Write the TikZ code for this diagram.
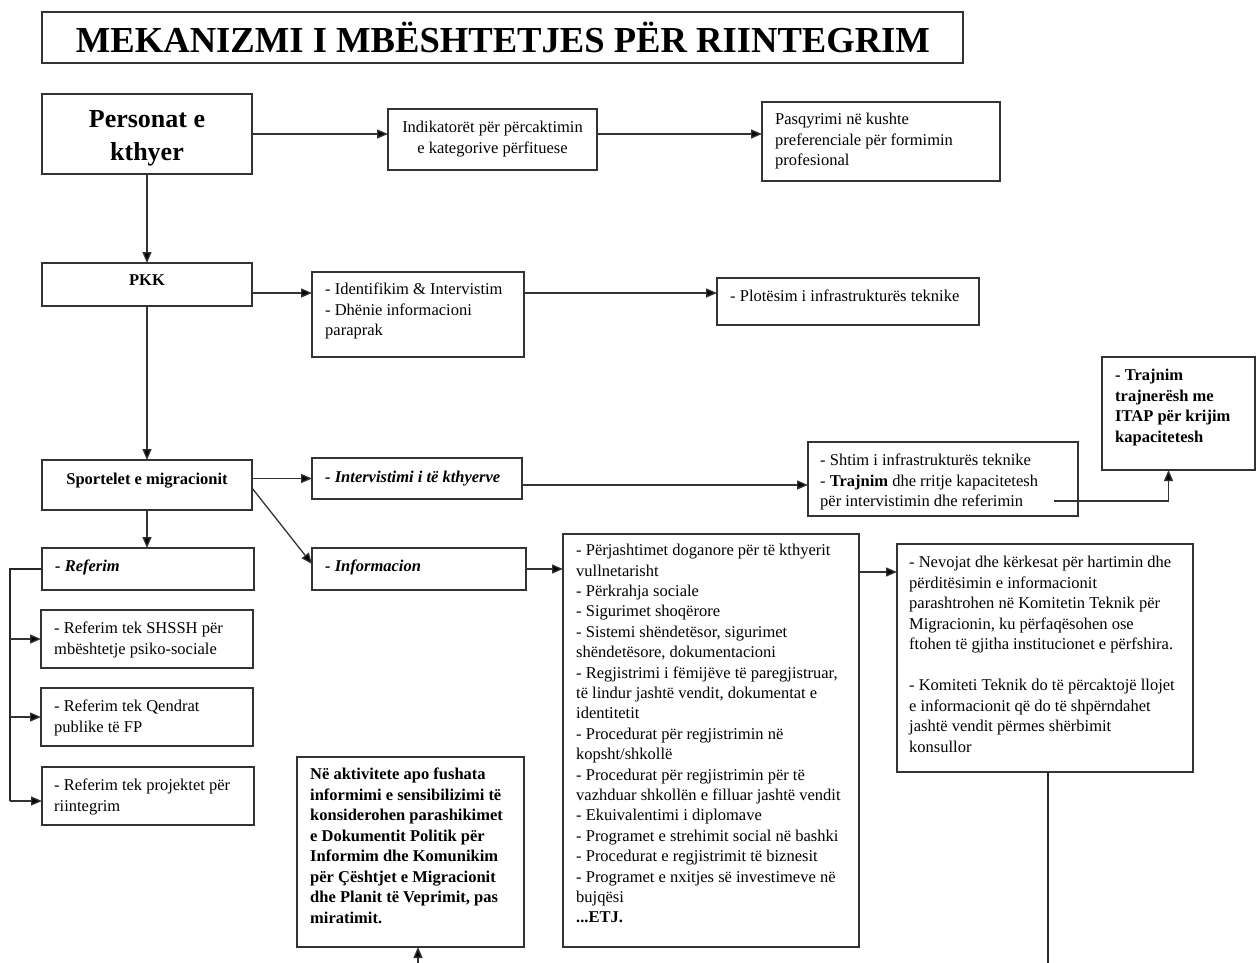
\documentclass[tikz,border=0pt]{standalone}
\usepackage{fontspec}
\setmainfont{Liberation Serif}
\usetikzlibrary{arrows.meta,calc}
\newcommand\tstrut{\rule{0pt}{0.8em}}
\begin{document}
\begin{tikzpicture}[x=1pt,y=-1pt,
 box/.style={draw=black!80, line width=1.2pt, anchor=north west, inner sep=0pt, outer sep=0pt},
 txt/.style={anchor=north west, inner sep=0pt, align=left, font=\fontsize{16.5}{20.5}\selectfont},
 txtb/.style={txt, font=\bfseries\fontsize{16.5}{20.5}\selectfont},
 txtbi/.style={txt, font=\bfseries\itshape\fontsize{16.5}{20.5}\selectfont},
 ctr/.style={anchor=north, inner sep=0pt, align=center, font=\fontsize{16.5}{20.5}\selectfont},
 arr/.style={draw=black!80, line width=1.3pt, -{Triangle[length=11pt,width=9pt,fill=black]}},
 ln/.style={draw=black!85, line width=1.3pt}]
\useasboundingbox[fill=white] (0,0) rectangle (1260,963);

% boxes
\node[box, minimum width=921pt, minimum height=51pt] (title) at (42,12) {};
\node[box, minimum width=210pt, minimum height=80pt] (pers) at (42,94) {};
\node[box, minimum width=209pt, minimum height=61pt] (ind) at (388,109) {};
\node[box, minimum width=238pt, minimum height=79pt] (pas) at (762,102) {};
\node[box, minimum width=210pt, minimum height=43pt] (pkk) at (42,263) {};
\node[box, minimum width=212pt, minimum height=85pt] (iden) at (312,272) {};
\node[box, minimum width=262pt, minimum height=47pt] (plo) at (717,278) {};
\node[box, minimum width=153pt, minimum height=113pt] (trj) at (1102,357) {};
\node[box, minimum width=210pt, minimum height=50pt] (sp) at (42,460) {};
\node[box, minimum width=210pt, minimum height=41pt] (intv) at (312,458) {};
\node[box, minimum width=270pt, minimum height=74pt] (sht) at (808,442) {};
\node[box, minimum width=212pt, minimum height=42pt] (ref) at (42,548) {};
\node[box, minimum width=214pt, minimum height=42pt] (inf) at (312,548) {};
\node[box, minimum width=296pt, minimum height=413pt] (lst) at (563,534) {};
\node[box, minimum width=296pt, minimum height=228pt] (rb) at (897,544) {};
\node[box, minimum width=227pt, minimum height=190pt] (bm) at (297,757) {};
\node[box, minimum width=212pt, minimum height=58pt] (sh) at (41,610) {};
\node[box, minimum width=212pt, minimum height=58pt] (qe) at (41,688) {};
\node[box, minimum width=212pt, minimum height=58pt] (pr) at (42,767) {};

% texts
\node[anchor=base, inner sep=0pt, font=\bfseries\fontsize{36.6}{40}\selectfont] (titlet) at (503,53) {MEKANIZMI I MBËSHTETJES PËR RIINTEGRIM};
\node[anchor=north, inner sep=0pt, align=center, font=\bfseries\fontsize{26}{33}\selectfont] (perst) at (147,106.8) {\tstrut Personat e\\kthyer};
\node[ctr] (indt) at (492.5,119.2) {\tstrut Indikatorët për përcaktimin\\e kategorive përfituese};
\node[txt] (past) at (775,111.2) {\tstrut Pasqyrimi në kushte\\preferenciale për formimin\\profesional};
\node[ctr, font=\bfseries\fontsize{16.5}{20.5}\selectfont] (pkkt) at (147,272.2) {\tstrut PKK};
\node[txt] (ident) at (325,281.2) {\tstrut - Identifikim \& Intervistim\\- Dhënie informacioni\\paraprak};
\node[txt] (plot) at (730,288.2) {\tstrut - Plotësim i infrastrukturës teknike};
\node[txtb] (trjt) at (1115,367.2) {\tstrut - Trajnim\\trajnerësh me\\ITAP për krijim\\kapacitetesh};
\node[ctr, font=\bfseries\fontsize{16.5}{20.5}\selectfont] (spt) at (147,471.2) {\tstrut Sportelet e migracionit};
\node[txtbi] (intvt) at (325,469.2) {\tstrut - Intervistimi i të kthyerve};
\node[txt] (shtt) at (820,452.2) {\tstrut - Shtim i infrastrukturës teknike\\- \textbf{Trajnim} dhe rritje kapacitetesh\\për intervistimin dhe referimin};
\node[txtbi] (reft) at (55,558.2) {\tstrut - Referim};
\node[txtbi] (inft) at (325,558.2) {\tstrut - Informacion};
\node[txt] (sht1) at (54,620.2) {\tstrut - Referim tek SHSSH për\\mbështetje psiko-sociale};
\node[txt] (qet) at (54,698.2) {\tstrut - Referim tek Qendrat\\publike të FP};
\node[txt] (prt) at (54,777.2) {\tstrut - Referim tek projektet për\\riintegrim};
\node[txtb] (bmt) at (310,766.2) {\tstrut Në aktivitete apo fushata\\informimi e sensibilizimi të\\konsiderohen parashikimet\\e Dokumentit Politik për\\Informim dhe Komunikim\\për Çështjet e Migracionit\\dhe Planit të Veprimit, pas\\miratimit.};
\node[txt, font=\fontsize{16.5}{20.4}\selectfont] (lstt) at (576,542.2) {\tstrut - Përjashtimet doganore për të kthyerit\\vullnetarisht\\- Përkrahja sociale\\- Sigurimet shoqërore\\- Sistemi shëndetësor, sigurimet\\shëndetësore, dokumentacioni\\- Regjistrimi i fëmijëve të paregjistruar,\\të lindur jashtë vendit, dokumentat e\\identitetit\\- Procedurat për regjistrimin në\\kopsht/shkollë\\- Procedurat për regjistrimin për të\\vazhduar shkollën e filluar jashtë vendit\\- Ekuivalentimi i diplomave\\- Programet e strehimit social në bashki\\- Procedurat e regjistrimit të biznesit\\- Programet e nxitjes së investimeve në\\bujqësi\\\textbf{...ETJ.}};
\node[txt] (rbt) at (909,554.2) {\tstrut - Nevojat dhe kërkesat për hartimin dhe\\përditësimin e informacionit\\parashtrohen në Komitetin Teknik për\\Migracionin, ku përfaqësohen ose\\ftohen të gjitha institucionet e përfshira.\\[20.5pt]- Komiteti Teknik do të përcaktojë llojet\\e informacionit që do të shpërndahet\\jashtë vendit përmes shërbimit\\konsullor};

% connectors
\draw[arr] (pers.east) -- (pers.east -| ind.west);
\draw[arr] (ind.east |- pers.east) -- (pas.west |- pers.east);
\draw[arr] (pers.south) -- (pkk.north);
\coordinate (c1) at ($(pkk.east)+(0,8.5)$);
\draw[arr] (c1) -- (c1 -| iden.west);
\draw[arr] (iden.east |- c1) -- (plo.west |- c1);
\draw[arr] (pkk.south) -- (sp.north);
\draw[arr] (sp.east |- intv.west) -- (intv.west);
\coordinate (c2) at ($(intv.east)+(0,6.5)$);
\draw[arr] (c2) -- (c2 -| sht.west);
\coordinate (c3) at ($(sht.south east)+(-24,-15)$);
\coordinate (c4) at ($(trj.south)+(-10,0)$);
\draw[arr] (c3) -- (c3 -| c4) -- (c4);
\draw[arr] ($(sp.east)+(0,3)$) -- ($(inf.west)+(0,-5)$);
\draw[arr] (sp.south) -- (sp.south |- ref.north);
\draw[arr] (inf.east) -- (inf.east -| lst.west);
\coordinate (c5) at ($(rb.north west)+(0,28)$);
\draw[arr] (c5 -| lst.east) -- (c5);
\coordinate (lx) at (10,0);
\coordinate (c6) at ($(pr.west)+(0,5)$);
\draw[ln] (ref.west) -- (ref.west -| lx) -- (lx |- c6);
\draw[arr] (lx |- sh.west) -- (sh.west);
\draw[arr] (lx |- qe.west) -- (qe.west);
\draw[arr] (lx |- c6) -- (c6);
\coordinate (c7) at ($(rb.south)+(3,0)$);
\coordinate (c8) at (1048,963);
\draw[ln] (c7) -- (c7 |- c8);
\coordinate (c9) at (418,963);
\draw[arr] (c9) -- (c9 |- bm.south);
\end{tikzpicture}
\end{document}
